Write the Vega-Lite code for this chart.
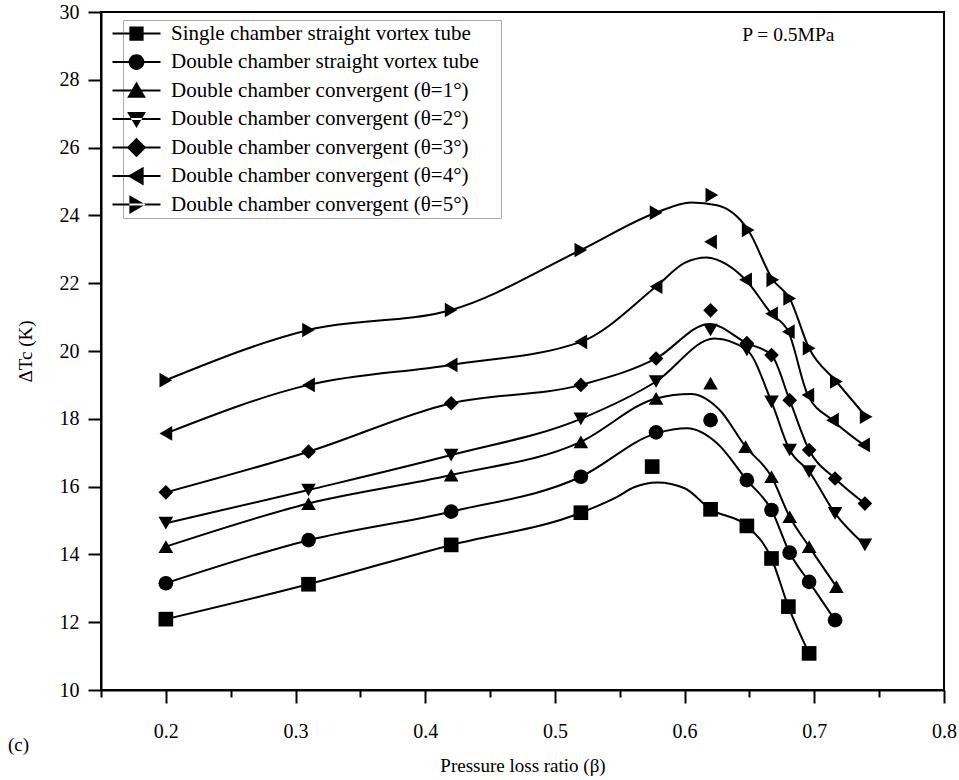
{
  "$schema": "https://vega.github.io/schema/vega-lite/v6.json",
  "width": 843,
  "height": 678,
  "autosize": {"type": "none"},
  "padding": {"left": 101, "top": 12, "right": 15, "bottom": 90},
  "background": "white",
  "title": {"text": "(c)", "orient": "bottom", "anchor": "start", "frame": "group", "dx": -93, "dy": -43, "fontSize": 19, "font": "Liberation Serif", "fontWeight": "normal", "color": "black"},
  "config": {
    "view": {"stroke": "black", "strokeWidth": 2},
    "font": "Liberation Serif",
    "axis": {"domainColor": "black", "domainWidth": 2, "tickColor": "black", "tickWidth": 2, "labelColor": "black", "labelFont": "Liberation Serif", "labelFontSize": 20, "titleFont": "Liberation Serif", "titleFontSize": 19, "titleFontWeight": "normal", "titleColor": "black", "grid": false, "labelOverlap": false, "labelFlush": false}
  },
  "datasets": {
    "curves": [
      {"s": "s1", "beta": 0.2, "dT": 12.09}, {"s": "s1", "beta": 0.31, "dT": 13.12}, {"s": "s1", "beta": 0.42, "dT": 14.28}, {"s": "s1", "beta": 0.52, "dT": 15.23}, {"s": "s1", "beta": 0.548, "dT": 15.7}, {"s": "s1", "beta": 0.561, "dT": 15.98}, {"s": "s1", "beta": 0.579, "dT": 16.12}, {"s": "s1", "beta": 0.6, "dT": 15.95}, {"s": "s1", "beta": 0.62, "dT": 15.33}, {"s": "s1", "beta": 0.648, "dT": 14.84}, {"s": "s1", "beta": 0.667, "dT": 13.88}, {"s": "s1", "beta": 0.68, "dT": 12.46}, {"s": "s1", "beta": 0.696, "dT": 11.08},
      {"s": "s2", "beta": 0.2, "dT": 13.15}, {"s": "s2", "beta": 0.31, "dT": 14.42}, {"s": "s2", "beta": 0.42, "dT": 15.26}, {"s": "s2", "beta": 0.52, "dT": 16.29}, {"s": "s2", "beta": 0.578, "dT": 17.57}, {"s": "s2", "beta": 0.602, "dT": 17.72}, {"s": "s2", "beta": 0.625, "dT": 17.28}, {"s": "s2", "beta": 0.648, "dT": 16.19}, {"s": "s2", "beta": 0.667, "dT": 15.31}, {"s": "s2", "beta": 0.681, "dT": 14.05}, {"s": "s2", "beta": 0.696, "dT": 13.19}, {"s": "s2", "beta": 0.716, "dT": 12.06},
      {"s": "s3", "beta": 0.2, "dT": 14.23}, {"s": "s3", "beta": 0.31, "dT": 15.5}, {"s": "s3", "beta": 0.42, "dT": 16.34}, {"s": "s3", "beta": 0.52, "dT": 17.32}, {"s": "s3", "beta": 0.578, "dT": 18.6}, {"s": "s3", "beta": 0.605, "dT": 18.73}, {"s": "s3", "beta": 0.627, "dT": 18.26}, {"s": "s3", "beta": 0.647, "dT": 17.18}, {"s": "s3", "beta": 0.667, "dT": 16.29}, {"s": "s3", "beta": 0.681, "dT": 15.11}, {"s": "s3", "beta": 0.696, "dT": 14.23}, {"s": "s3", "beta": 0.717, "dT": 13.05},
      {"s": "s4", "beta": 0.2, "dT": 14.92}, {"s": "s4", "beta": 0.31, "dT": 15.9}, {"s": "s4", "beta": 0.42, "dT": 16.93}, {"s": "s4", "beta": 0.52, "dT": 18.0}, {"s": "s4", "beta": 0.578, "dT": 19.1}, {"s": "s4", "beta": 0.623, "dT": 20.37}, {"s": "s4", "beta": 0.648, "dT": 20.03}, {"s": "s4", "beta": 0.667, "dT": 18.5}, {"s": "s4", "beta": 0.681, "dT": 17.08}, {"s": "s4", "beta": 0.696, "dT": 16.44}, {"s": "s4", "beta": 0.716, "dT": 15.21}, {"s": "s4", "beta": 0.739, "dT": 14.28},
      {"s": "s5", "beta": 0.2, "dT": 15.83}, {"s": "s5", "beta": 0.31, "dT": 17.03}, {"s": "s5", "beta": 0.42, "dT": 18.46}, {"s": "s5", "beta": 0.52, "dT": 19.0}, {"s": "s5", "beta": 0.578, "dT": 19.78}, {"s": "s5", "beta": 0.619, "dT": 20.8}, {"s": "s5", "beta": 0.648, "dT": 20.23}, {"s": "s5", "beta": 0.667, "dT": 19.88}, {"s": "s5", "beta": 0.681, "dT": 18.55}, {"s": "s5", "beta": 0.696, "dT": 17.08}, {"s": "s5", "beta": 0.716, "dT": 16.24}, {"s": "s5", "beta": 0.739, "dT": 15.5},
      {"s": "s6", "beta": 0.2, "dT": 17.57}, {"s": "s6", "beta": 0.31, "dT": 19.0}, {"s": "s6", "beta": 0.42, "dT": 19.59}, {"s": "s6", "beta": 0.52, "dT": 20.27}, {"s": "s6", "beta": 0.578, "dT": 21.9}, {"s": "s6", "beta": 0.6, "dT": 22.6}, {"s": "s6", "beta": 0.617, "dT": 22.76}, {"s": "s6", "beta": 0.633, "dT": 22.54}, {"s": "s6", "beta": 0.647, "dT": 22.1}, {"s": "s6", "beta": 0.667, "dT": 21.1}, {"s": "s6", "beta": 0.68, "dT": 20.57}, {"s": "s6", "beta": 0.695, "dT": 18.7}, {"s": "s6", "beta": 0.714, "dT": 17.96}, {"s": "s6", "beta": 0.738, "dT": 17.23},
      {"s": "s7", "beta": 0.2, "dT": 19.14}, {"s": "s7", "beta": 0.31, "dT": 20.62}, {"s": "s7", "beta": 0.42, "dT": 21.21}, {"s": "s7", "beta": 0.52, "dT": 22.98}, {"s": "s7", "beta": 0.578, "dT": 24.08}, {"s": "s7", "beta": 0.605, "dT": 24.38}, {"s": "s7", "beta": 0.625, "dT": 24.3}, {"s": "s7", "beta": 0.649, "dT": 23.57}, {"s": "s7", "beta": 0.668, "dT": 22.1}, {"s": "s7", "beta": 0.681, "dT": 21.55}, {"s": "s7", "beta": 0.696, "dT": 20.08}, {"s": "s7", "beta": 0.717, "dT": 19.1}, {"s": "s7", "beta": 0.74, "dT": 18.06}
    ],
    "points": [
      {"series": "Single chamber straight vortex tube", "beta": 0.2, "dT": 12.09}, {"series": "Single chamber straight vortex tube", "beta": 0.31, "dT": 13.12}, {"series": "Single chamber straight vortex tube", "beta": 0.42, "dT": 14.28}, {"series": "Single chamber straight vortex tube", "beta": 0.52, "dT": 15.23}, {"series": "Single chamber straight vortex tube", "beta": 0.575, "dT": 16.59}, {"series": "Single chamber straight vortex tube", "beta": 0.62, "dT": 15.33}, {"series": "Single chamber straight vortex tube", "beta": 0.648, "dT": 14.84}, {"series": "Single chamber straight vortex tube", "beta": 0.667, "dT": 13.88}, {"series": "Single chamber straight vortex tube", "beta": 0.68, "dT": 12.46}, {"series": "Single chamber straight vortex tube", "beta": 0.696, "dT": 11.08},
      {"series": "Double chamber straight vortex tube", "beta": 0.2, "dT": 13.15}, {"series": "Double chamber straight vortex tube", "beta": 0.31, "dT": 14.42}, {"series": "Double chamber straight vortex tube", "beta": 0.42, "dT": 15.26}, {"series": "Double chamber straight vortex tube", "beta": 0.52, "dT": 16.29}, {"series": "Double chamber straight vortex tube", "beta": 0.578, "dT": 17.6}, {"series": "Double chamber straight vortex tube", "beta": 0.62, "dT": 17.96}, {"series": "Double chamber straight vortex tube", "beta": 0.648, "dT": 16.19}, {"series": "Double chamber straight vortex tube", "beta": 0.667, "dT": 15.31}, {"series": "Double chamber straight vortex tube", "beta": 0.681, "dT": 14.05}, {"series": "Double chamber straight vortex tube", "beta": 0.696, "dT": 13.19}, {"series": "Double chamber straight vortex tube", "beta": 0.716, "dT": 12.06},
      {"series": "Double chamber convergent (θ=1°)", "beta": 0.2, "dT": 14.23}, {"series": "Double chamber convergent (θ=1°)", "beta": 0.31, "dT": 15.5}, {"series": "Double chamber convergent (θ=1°)", "beta": 0.42, "dT": 16.34}, {"series": "Double chamber convergent (θ=1°)", "beta": 0.52, "dT": 17.32}, {"series": "Double chamber convergent (θ=1°)", "beta": 0.578, "dT": 18.6}, {"series": "Double chamber convergent (θ=1°)", "beta": 0.62, "dT": 19.05}, {"series": "Double chamber convergent (θ=1°)", "beta": 0.647, "dT": 17.18}, {"series": "Double chamber convergent (θ=1°)", "beta": 0.667, "dT": 16.29}, {"series": "Double chamber convergent (θ=1°)", "beta": 0.681, "dT": 15.11}, {"series": "Double chamber convergent (θ=1°)", "beta": 0.696, "dT": 14.23}, {"series": "Double chamber convergent (θ=1°)", "beta": 0.717, "dT": 13.05},
      {"series": "Double chamber convergent (θ=2°)", "beta": 0.2, "dT": 14.92}, {"series": "Double chamber convergent (θ=2°)", "beta": 0.31, "dT": 15.9}, {"series": "Double chamber convergent (θ=2°)", "beta": 0.42, "dT": 16.93}, {"series": "Double chamber convergent (θ=2°)", "beta": 0.52, "dT": 18.0}, {"series": "Double chamber convergent (θ=2°)", "beta": 0.578, "dT": 19.1}, {"series": "Double chamber convergent (θ=2°)", "beta": 0.62, "dT": 20.62}, {"series": "Double chamber convergent (θ=2°)", "beta": 0.648, "dT": 20.03}, {"series": "Double chamber convergent (θ=2°)", "beta": 0.667, "dT": 18.5}, {"series": "Double chamber convergent (θ=2°)", "beta": 0.681, "dT": 17.08}, {"series": "Double chamber convergent (θ=2°)", "beta": 0.696, "dT": 16.44}, {"series": "Double chamber convergent (θ=2°)", "beta": 0.716, "dT": 15.21}, {"series": "Double chamber convergent (θ=2°)", "beta": 0.739, "dT": 14.28},
      {"series": "Double chamber convergent (θ=3°)", "beta": 0.2, "dT": 15.83}, {"series": "Double chamber convergent (θ=3°)", "beta": 0.31, "dT": 17.03}, {"series": "Double chamber convergent (θ=3°)", "beta": 0.42, "dT": 18.46}, {"series": "Double chamber convergent (θ=3°)", "beta": 0.52, "dT": 19.0}, {"series": "Double chamber convergent (θ=3°)", "beta": 0.578, "dT": 19.78}, {"series": "Double chamber convergent (θ=3°)", "beta": 0.62, "dT": 21.2}, {"series": "Double chamber convergent (θ=3°)", "beta": 0.648, "dT": 20.23}, {"series": "Double chamber convergent (θ=3°)", "beta": 0.667, "dT": 19.88}, {"series": "Double chamber convergent (θ=3°)", "beta": 0.681, "dT": 18.55}, {"series": "Double chamber convergent (θ=3°)", "beta": 0.696, "dT": 17.08}, {"series": "Double chamber convergent (θ=3°)", "beta": 0.716, "dT": 16.24}, {"series": "Double chamber convergent (θ=3°)", "beta": 0.739, "dT": 15.5},
      {"series": "Double chamber convergent (θ=4°)", "beta": 0.2, "dT": 17.57}, {"series": "Double chamber convergent (θ=4°)", "beta": 0.31, "dT": 19.0}, {"series": "Double chamber convergent (θ=4°)", "beta": 0.42, "dT": 19.59}, {"series": "Double chamber convergent (θ=4°)", "beta": 0.52, "dT": 20.27}, {"series": "Double chamber convergent (θ=4°)", "beta": 0.578, "dT": 21.9}, {"series": "Double chamber convergent (θ=4°)", "beta": 0.62, "dT": 23.22}, {"series": "Double chamber convergent (θ=4°)", "beta": 0.647, "dT": 22.1}, {"series": "Double chamber convergent (θ=4°)", "beta": 0.667, "dT": 21.1}, {"series": "Double chamber convergent (θ=4°)", "beta": 0.68, "dT": 20.57}, {"series": "Double chamber convergent (θ=4°)", "beta": 0.695, "dT": 18.7}, {"series": "Double chamber convergent (θ=4°)", "beta": 0.714, "dT": 17.96}, {"series": "Double chamber convergent (θ=4°)", "beta": 0.738, "dT": 17.23},
      {"series": "Double chamber convergent (θ=5°)", "beta": 0.2, "dT": 19.14}, {"series": "Double chamber convergent (θ=5°)", "beta": 0.31, "dT": 20.62}, {"series": "Double chamber convergent (θ=5°)", "beta": 0.42, "dT": 21.21}, {"series": "Double chamber convergent (θ=5°)", "beta": 0.52, "dT": 22.98}, {"series": "Double chamber convergent (θ=5°)", "beta": 0.578, "dT": 24.08}, {"series": "Double chamber convergent (θ=5°)", "beta": 0.621, "dT": 24.6}, {"series": "Double chamber convergent (θ=5°)", "beta": 0.649, "dT": 23.57}, {"series": "Double chamber convergent (θ=5°)", "beta": 0.668, "dT": 22.1}, {"series": "Double chamber convergent (θ=5°)", "beta": 0.681, "dT": 21.55}, {"series": "Double chamber convergent (θ=5°)", "beta": 0.696, "dT": 20.08}, {"series": "Double chamber convergent (θ=5°)", "beta": 0.717, "dT": 19.1}, {"series": "Double chamber convergent (θ=5°)", "beta": 0.74, "dT": 18.06}
    ],
    "note": [{"beta": 0.68, "dT": 29.32, "text": "P = 0.5MPa"}]
  },
  "layer": [
    {
      "data": {"name": "curves"},
      "mark": {"type": "line", "interpolate": "monotone", "color": "black", "strokeWidth": 2},
      "encoding": {
        "x": {"field": "beta", "type": "quantitative", "scale": {"domain": [0.15, 0.8], "nice": false, "zero": false},
          "axis": {"title": "Pressure loss ratio (β)", "values": [0.15, 0.2, 0.25, 0.3, 0.35, 0.4, 0.45, 0.5, 0.55, 0.6, 0.65, 0.7, 0.75, 0.8],
            "labelFont": "Liberation Serif", "labelFontSize": 20, "titleFont": "Liberation Serif",
            "labelExpr": "(abs(datum.value*10 - round(datum.value*10)) < 0.001 && datum.value > 0.17) ? format(datum.value, '.1f') : ''",
            "tickSize": {"condition": {"test": "abs(datum.value*10 - round(datum.value*10)) < 0.001", "value": 13}, "value": 7},
            "labelPadding": 18, "titlePadding": 15}},
        "y": {"field": "dT", "type": "quantitative", "scale": {"domain": [10, 30], "nice": false, "zero": false},
          "axis": {"title": "ΔTc (K)", "values": [10, 11, 12, 13, 14, 15, 16, 17, 18, 19, 20, 21, 22, 23, 24, 25, 26, 27, 28, 29, 30],
            "labelFont": "Liberation Serif", "labelFontSize": 20, "titleFont": "Liberation Serif",
            "labelExpr": "datum.value % 2 == 0 ? datum.label : ''",
            "tickSize": {"condition": {"test": "datum.value % 2 == 0", "value": 13}, "value": 6},
            "labelPadding": 9, "titlePadding": 24}},
        "detail": {"field": "s", "type": "nominal"}
      }
    },
    {
      "data": {"name": "points"},
      "mark": {"type": "point", "filled": true, "color": "black", "opacity": 1, "size": 215},
      "encoding": {
        "x": {"field": "beta", "type": "quantitative"},
        "y": {"field": "dT", "type": "quantitative"},
        "shape": {"field": "series", "type": "nominal", "legend": null,
          "scale": {"domain": ["Single chamber straight vortex tube", "Double chamber straight vortex tube", "Double chamber convergent (θ=1°)", "Double chamber convergent (θ=2°)", "Double chamber convergent (θ=3°)", "Double chamber convergent (θ=4°)", "Double chamber convergent (θ=5°)"],
            "range": ["square", "circle", "triangle-up", "triangle-down", "diamond", "triangle-left", "triangle-right"]}}
      }
    },
    {
      "data": {"name": "points"},
      "mark": {"type": "point", "filled": true, "color": "black", "opacity": 0},
      "encoding": {
        "x": {"field": "beta", "type": "quantitative"},
        "y": {"field": "dT", "type": "quantitative"},
        "shape": {"field": "series", "type": "nominal",
          "scale": {"domain": ["Single chamber straight vortex tube", "Double chamber straight vortex tube", "Double chamber convergent (θ=1°)", "Double chamber convergent (θ=2°)", "Double chamber convergent (θ=3°)", "Double chamber convergent (θ=4°)", "Double chamber convergent (θ=5°)"],
            "range": [
              "M-3.2,-0.13H3.2V0.13H-3.2ZM-0.95,-0.95H0.95V0.95H-0.95Z",
              "M-3.2,-0.13H3.2V0.13H-3.2ZM-1.05,0A1.05,1.05,0,1,1,1.05,0A1.05,1.05,0,1,1,-1.05,0Z",
              "M-3.2,-0.13H3.2V0.13H-3.2ZM0,-1.2L1.25,0.95H-1.25Z",
              "M-3.2,-0.13H3.2V0.13H-3.2ZM0,1.2L1.25,-0.95H-1.25Z",
              "M-3.2,-0.13H3.2V0.13H-3.2ZM0,-1.3L1.3,0L0,1.3L-1.3,0Z",
              "M-3.2,-0.13H3.2V0.13H-3.2ZM-1.2,0L0.95,-1.25V1.25Z",
              "M-3.2,-0.13H3.2V0.13H-3.2ZM1.2,0L-0.95,-1.25V1.25Z"
            ]},
          "legend": {"title": "xx", "titleOrient": "right", "titlePadding": 0, "titleFontSize": 19, "titleFont": "Liberation Serif", "titleColor": "white",
            "orient": "none", "legendX": 22, "legendY": 8, "symbolSize": 225, "symbolOpacity": 1, "symbolFillColor": "black", "symbolStrokeWidth": 0,
            "labelFont": "Liberation Serif", "labelFontSize": 21, "labelColor": "black", "labelLimit": 600, "labelOffset": 24, "rowPadding": 6.5,
            "strokeColor": "#aaaaaa", "padding": 3, "fillColor": "white"}}
      }
    },
    {
      "data": {"name": "note"},
      "mark": {"type": "text", "font": "Liberation Serif", "fontSize": 19.5, "color": "black"},
      "encoding": {
        "x": {"field": "beta", "type": "quantitative"},
        "y": {"field": "dT", "type": "quantitative"},
        "text": {"field": "text"}
      }
    }
  ],
  "resolve": {"scale": {"shape": "independent"}}
}
